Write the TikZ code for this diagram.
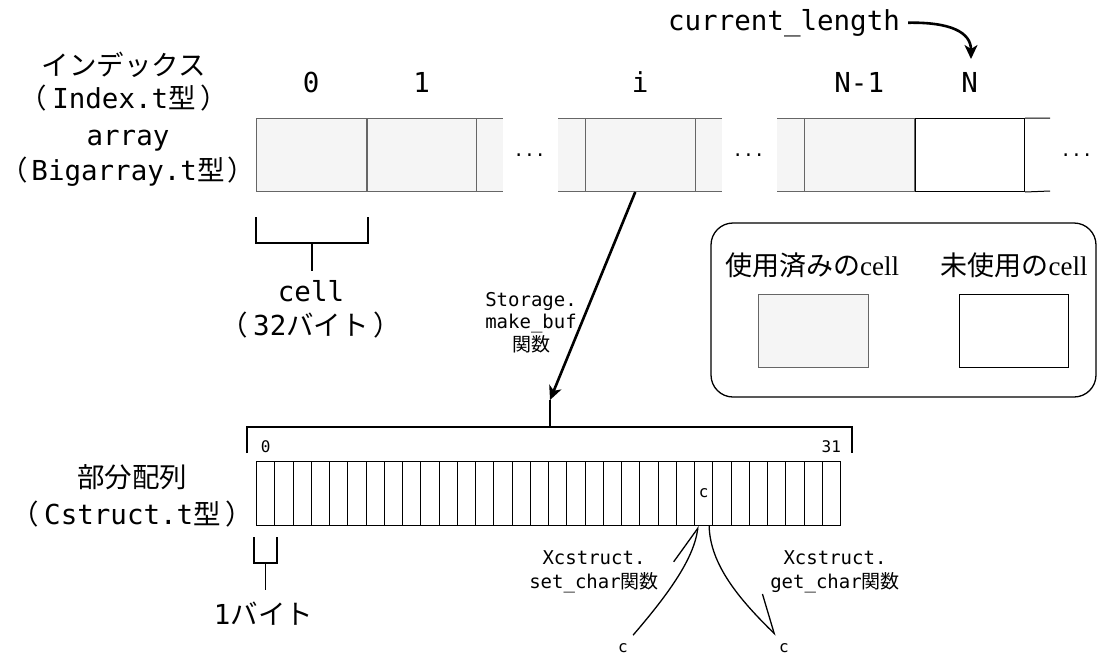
\documentclass[tikz,border=0pt]{standalone}
\usepackage{fontspec}
\setmainfont{Liberation Serif}
\setmonofont{DejaVu Sans Mono}
\newfontfamily\jpfont{Noto Sans CJK JP}
\newfontfamily\jpparfont[RawFeature=+halt]{Noto Sans CJK JP}
\newcommand\jp[1]{{\jpfont #1}}
\newcommand\lpar[1][5pt]{{\jpparfont （}\hspace{#1}}
\newcommand\rpar[1][5pt]{\hspace{#1}{\jpparfont ）}}
\usetikzlibrary{arrows.meta}
\definecolor{usedfill}{HTML}{F5F5F5}
\definecolor{usedline}{HTML}{666666}
\tikzset{
 biglbl/.style={font=\ttfamily\fontsize{27.5}{#1}\selectfont, inner sep=0pt, align=center},
 biglbl/.default=32,
 smalllbl/.style={font=\ttfamily\fontsize{19}{#1}\selectfont, inner sep=0pt, align=center},
 smalllbl/.default=22,
 tinylbl/.style={font=\ttfamily\fontsize{16}{19}\selectfont, inner sep=0pt},
 dotlbl/.style={font=\ttfamily\fontsize{18}{20}\selectfont, inner sep=0pt},
 legtext/.style={font=\fontsize{27}{32}\selectfont, inner sep=0pt},
 cellused/.style={draw=usedline, fill=usedfill, line width=1pt, minimum width=109.5pt, minimum height=73pt, inner sep=0pt, anchor=north west},
 cellfree/.style={cellused, draw=black, fill=white},
 bytecell/.style={draw=black, line width=0.9pt, minimum width=18.25pt, minimum height=64pt, inner sep=0pt, anchor=north west},
 brk/.style={line width=1.8pt},
 thickarrow/.style={line width=2.6pt, -{Stealth[length=14pt,width=13pt,inset=4pt]}},
 barb/.style={line width=1.3pt, -{Straight Barb[harpoon,length=36pt,width=40pt]}},
 legendbox/.style={draw, line width=1.3pt, rounded corners=22pt},
}
\begin{document}
\begin{tikzpicture}[x=1pt,y=-1pt]
\useasboundingbox (0,0) rectangle (1097,657);

% ---- array (Bigarray) ----
\fill[usedfill] (475,118) rectangle (503,191);
\draw[usedline, line width=1pt] (475,118) -- (503,118) (475,191) -- (503,191);
\node[cellused] (c0) at (256,118) {};
\node[cellused] (c1) at (c0.north east) {};

\fill[usedfill] (558,118) rectangle (722,191);
\draw[usedline, line width=1pt] (558,118) -- (722,118) (558,191) -- (722,191);
\node[cellused] (ci) at (585,118) {};

\fill[usedfill] (777,118) rectangle (804,191);
\draw[usedline, line width=1pt] (777,118) -- (804,118) (777,191) -- (804,191);
\node[cellused] (cn1) at (804,118) {};
\node[cellfree] (cn) at (cn1.north east) {};
\draw[black, line width=1pt] (cn.north east) -- (1050,118) (cn.south east) -- (1050,191);

\node[dotlbl] (d1) at (529.5,155) {...};
\node[dotlbl] (d2) at (748.5,155) {...};
\node[dotlbl] (d3) at (1076.5,155) {...};

% index labels
\node[biglbl, anchor=base] (i0) at ([yshift=26pt]c0.north) {0};
\node[biglbl, anchor=base] (i1) at ([yshift=26pt]c1.north) {1};
\node[biglbl, anchor=base] (ii) at ([yshift=26pt]ci.north) {i};
\node[biglbl, anchor=base] (in1) at ([yshift=26pt]cn1.north) {N-1};
\node[biglbl, anchor=base] (in) at ([yshift=26pt]cn.north) {N};

\node[biglbl, anchor=base] (cl) at (784,30) {current\_length};
\coordinate (clend) at (971,59);
\draw[thickarrow] ([xshift=8pt]cl.east) .. controls (950,22) and (971,32) .. (clend);

% left labels
\node[biglbl=30] (idx) at (124,85) {\strut\jp{インデックス}\\\strut\lpar Index.t\jp{型}\rpar};
\node[biglbl=35] (arr) at (128,155.5) {\strut array\\\strut\lpar[3pt]Bigarray.t\jp{型}\rpar[3pt]};

% cell bracket
\draw[brk] (256,217) -- (256,243) -- (368,243) -- (368,217);
\draw[brk] (312,243) -- (312,271);
\node[biglbl=33] (celllbl) at (311,312) {\strut cell\\\strut\lpar 32\jp{バイト}\rpar};

% legend
\draw[legendbox] (711,223) rectangle (1096,397);
\node[legtext, anchor=base] (lu) at (812,275) {\jp{使用済みの}cell};
\node[legtext, anchor=base] (lf) at (1014,275) {\jp{未使用の}cell};
\node[cellused] (lubox) at (758.3,294.3) {};
\node[cellfree] (lfbox) at (958.7,294.3) {};

% make_buf arrow
\coordinate (mbtop) at (550,400);
\draw[thickarrow] ([xshift=-5pt]ci.south) -- (mbtop);
\node[smalllbl] (stor) at (531,324.6) {\strut Storage.\\\strut make\_buf\\\strut\jp{関数}};

% byte array
\foreach \k in {0,...,31} {
  \node[bytecell] (b\k) at ({256+18.25*\k},461) {};
}
\node[tinylbl] (c24) at (b24.center) {c};
\node[tinylbl] (n0) at ([yshift=14pt]b0.north) {0};
\node[tinylbl] (n31) at ([yshift=14pt]b31.north) {31};

\draw[brk] (247,453) -- (247,427) -- (852,427) -- (852,453);
\draw[brk] (mbtop) -- (550,427);

\node[biglbl=37] (sub) at (132.5,499) {\strut\jp{部分配列}\\\strut\lpar Cstruct.t\jp{型}\rpar};

% byte bracket
\draw[brk] (254,537) -- (254,563) -- (277,563) -- (277,537);
\draw[brk] (265.5,563) -- (265.5,590);
\node[biglbl, anchor=base] (bytelbl) at (263.5,624) {1\jp{バイト}};

% set/get char
\node[tinylbl] (cin) at (623,648) {c};
\node[tinylbl] (cout) at (784,648) {c};
\node[smalllbl] (setl) at (594,572) {\strut Xcstruct.\\\strut set\_char\jp{関数}};
\node[smalllbl] (getl) at (835,572) {\strut Xcstruct.\\\strut get\_char\jp{関数}};
\draw[barb] ([shift={(5pt,8pt)}]cin.north east) .. controls (665,598) and (694,560) .. ([xshift=4pt]b24.south west);
\draw[barb] ([xshift=-4pt]b24.south east) .. controls (710,565) and (740,600) .. ([shift={(-3pt,8pt)}]cout.north west);
\end{tikzpicture}
\end{document}
